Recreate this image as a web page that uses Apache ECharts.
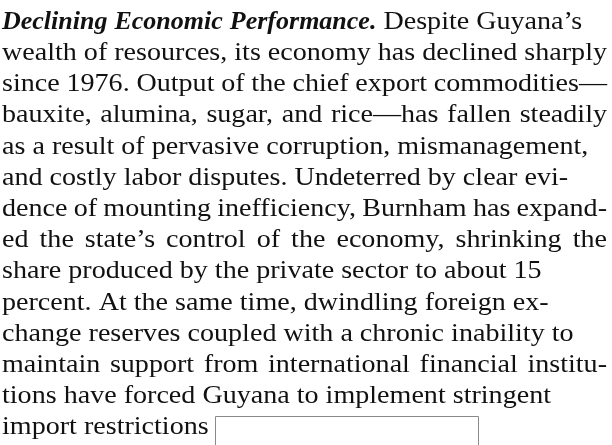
<!DOCTYPE html>
<html>
<head>
<meta charset="utf-8">
<script src="https://cdn.jsdelivr.net/npm/echarts@6/dist/echarts.min.js"></script>
<style>
  html, body { margin: 0; padding: 0; background: #fff; }
  #main { width: 612px; height: 445px; }
</style>
</head>
<body>
<div id="main"></div>
<script>
// run-in heading of the first line (bold italic), the rest is plain
var headRun = 'Declining Economic Performance.';
var lines = [
	'Despite Guyana\u2019s',
	'wealth of resources, its economy has declined sharply',
	'since 1976. Output of the chief export commodities\u2014',
	'bauxite, alumina, sugar, and rice\u2014has fallen steadily',
	'as a result of pervasive corruption, mismanagement,',
	'and costly labor disputes. Undeterred by clear evi-',
	'dence of mounting inefficiency, Burnham has expand-',
	'ed the state\u2019s control of the economy, shrinking the',
	'share produced by the private sector to about 15',
	'percent. At the same time, dwindling foreign ex-',
	'change reserves coupled with a chronic inability to',
	'maintain support from international financial institu-',
	'tions have forced Guyana to implement stringent',
	'import restrictions'
];
// lines set full measure (justified) in the scan
var justified = [false, true, true, true, false, false, true, true, false, false, false, true, false, false];

var fontSize = 26;
var family = '"Liberation Serif", "DejaVu Serif", serif';
var sx = 1.08;          // plain face is a bit wider in the scan
var lineGap = 31.2;
var firstBase = 30;
var leftX = 2;
var rightX = 607;

var ctx = document.createElement('canvas').getContext('2d');

function fontOf(bold) {
	return bold ? 'italic bold ' + fontSize + 'px ' + family : fontSize + 'px ' + family;
}

function wordWidth(w, bold) {
	ctx.font = fontOf(bold);
	return ctx.measureText(w).width * (bold ? 1 : sx);
}

var chart = echarts.init(document.getElementById('main'));
var graphic = [];

for (var i = 0; i < lines.length; i++) {
	var base = firstBase + i * lineGap;
	var tokens = [];
	if (i == 0) {
		headRun.split(' ').forEach(function(w) {
			tokens.push({ t: w, bold: true });
		});
	}
	lines[i].split(' ').forEach(function(w) {
		tokens.push({ t: w, bold: false });
	});

	var sum = 0;
	tokens.forEach(function(tk) {
		tk.w = wordWidth(tk.t, tk.bold);
		sum += tk.w;
	});
	var gap = wordWidth(' ', false);
	if (justified[i] && tokens.length > 1) {
		gap = (rightX - leftX - sum) / (tokens.length - 1);
	}

	var x = leftX;
	for (var k = 0; k < tokens.length; k++) {
		var tk = tokens[k];
		graphic.push({
			type: 'text',
			x: x,
			y: base - 21,
			scaleX: tk.bold ? 1 : sx,
			style: {
				text: tk.t,
				font: fontOf(tk.bold),
				fill: '#111'
			}
		});
		x += tk.w + gap;
	}
}

// empty box after the last line
graphic.push({
	type: 'rect',
	shape: { x: 215.5, y: 416.5, width: 263, height: 40 },
	style: { fill: 'none', stroke: '#8a8a8a', lineWidth: 1 }
});

chart.setOption({
	backgroundColor: '#fff',
	animation: false,
	graphic: graphic
});
</script>
</body>
</html>
